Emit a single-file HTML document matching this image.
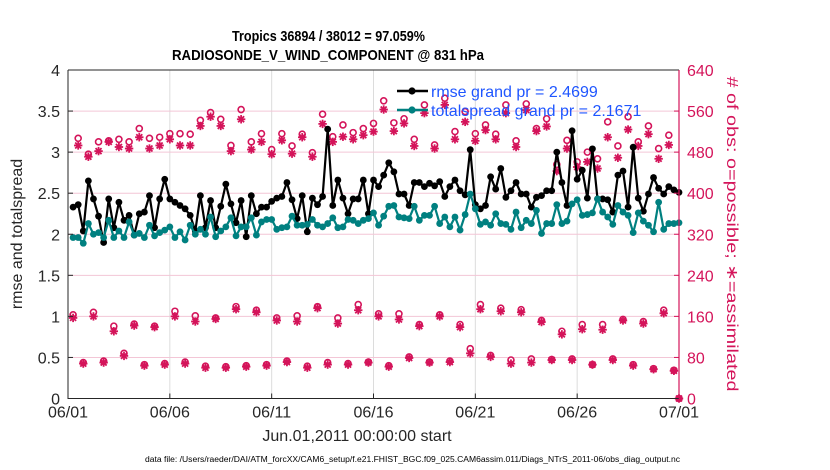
<!DOCTYPE html>
<html><head><meta charset="utf-8"><style>
html,body{margin:0;padding:0;background:#fff;}
svg{display:block;font-family:"Liberation Sans",Arial,sans-serif;}
</style></head><body>
<svg id="chart" width="830" height="470" viewBox="0 0 830 470">
<g id="grid"></g>
<g id="obs"></g>
<g id="lines"></g>
<g id="axes"></g>
<text x="232" y="41" font-size="15" font-weight="bold" fill="#000" textLength="193" lengthAdjust="spacingAndGlyphs">Tropics 36894 / 38012 = 97.059%</text>
<text x="172" y="60" font-size="15" font-weight="bold" fill="#000" textLength="312" lengthAdjust="spacingAndGlyphs">RADIOSONDE_V_WIND_COMPONENT @ 831 hPa</text>
<text transform="translate(22,234) rotate(-90)" text-anchor="middle" font-size="16" fill="#262626">rmse and totalspread</text>
<text transform="translate(727,234) rotate(90)" text-anchor="middle" font-size="16" fill="#d4145a" textLength="315" lengthAdjust="spacingAndGlyphs"># of obs: o=possible; ∗=assimilated</text>
<text x="357" y="441" text-anchor="middle" font-size="16" fill="#262626">Jun.01,2011 00:00:00 start</text>
<text x="145" y="462" font-size="8" fill="#000" textLength="535" lengthAdjust="spacingAndGlyphs">data file: /Users/raeder/DAI/ATM_forcXX/CAM6_setup/f.e21.FHIST_BGC.f09_025.CAM6assim.011/Diags_NTrS_2011-06/obs_diag_output.nc</text>
<g id="legend">
 <line x1="397" y1="91" x2="428" y2="91" stroke="#000" stroke-width="2.5"/>
 <circle cx="412" cy="91" r="3.6" fill="#000"/>
 <text x="431" y="97" font-size="16" fill="#1f56ff">rmse grand pr = 2.4699</text>
 <line x1="397" y1="110" x2="428" y2="110" stroke="#008080" stroke-width="2.5"/>
 <circle cx="412" cy="110" r="3.6" fill="#008080"/>
 <text x="431" y="116" font-size="16" fill="#1f56ff">totalspread grand pr = 2.1671</text>
</g>
</svg>
<script>
const rmse=[2.33,2.36,2.04,2.65,2.43,2.22,1.90,2.43,2.08,2.39,2.17,2.23,1.99,2.25,2.27,2.47,2.08,2.43,2.67,2.43,2.39,2.35,2.31,2.23,2.04,2.47,2.08,2.41,2.08,2.34,2.61,2.37,
2.14,2.41,1.97,2.47,2.25,2.33,2.33,2.40,2.44,2.46,2.63,2.42,2.19,2.47,2.03,2.44,2.36,2.46,3.28,2.35,2.66,2.44,2.25,2.43,2.43,2.66,2.25,2.66,2.58,2.72,2.87,
2.76,2.49,2.49,2.35,2.63,2.63,2.58,2.62,2.59,2.64,2.46,2.58,2.66,2.53,2.48,3.03,2.36,2.31,2.35,2.70,2.55,2.80,2.45,2.53,2.63,2.49,2.49,2.33,2.45,2.47,2.53,
2.53,3.00,2.63,2.35,3.26,2.67,2.78,2.44,3.04,2.43,2.43,2.42,2.27,2.72,2.77,2.33,3.06,2.44,2.28,2.49,2.69,2.56,2.49,2.58,2.54,2.51];
const spread=[1.96,1.96,1.89,2.13,2.00,2.02,1.96,2.17,1.96,2.04,1.96,2.15,1.99,2.01,1.96,2.11,1.98,2.02,2.05,2.09,1.96,2.03,1.93,2.11,2.00,2.06,2.00,2.21,1.97,2.04,2.09,2.20,
1.98,2.09,2.09,2.20,1.99,2.15,2.18,2.18,2.06,2.08,2.09,2.22,2.11,2.11,2.12,2.18,2.11,2.09,2.13,2.20,2.08,2.09,2.18,2.17,2.13,2.17,2.19,2.26,2.11,2.22,2.34,
2.35,2.21,2.20,2.19,2.34,2.17,2.23,2.23,2.34,2.13,2.21,2.09,2.21,2.05,2.24,2.49,2.31,2.12,2.15,2.11,2.25,2.13,2.12,2.06,2.27,2.08,2.17,2.13,2.29,2.01,2.13,
2.13,2.36,2.13,2.16,2.37,2.42,2.23,2.24,2.26,2.43,2.27,2.21,2.12,2.35,2.27,2.23,2.02,2.26,2.16,2.11,2.03,2.39,2.06,2.13,2.13,2.14];
const possA=[163,168,141,145,141,170,161,157,179,172,157,161,179,157,183,165,165,144,163,144,183,176,173,152,131,144,144,154,150,172];
const assimA=[157,160,131,142,139,160,150,155,174,168,152,150,176,146,172,160,154,141,160,139,174,170,168,149,125,135,134,152,146,166];
const possB=[70,73,88,66,68,71,63,62,64,66,73,63,70,68,71,64,81,71,73,97,84,75,77,76,77,66,77,66,58,55];
const assimB=[68,70,83,64,66,68,60,60,62,64,71,60,66,66,70,62,79,70,71,88,81,68,70,75,75,66,75,64,57,54];
const possU=[507,476,500,502,505,500,526,507,509,516,516,515,542,557,544,493,
563,500,516,485,516,492,515,479,554,510,533,518,526,536,580,
537,545,505,572,494,585,520,559,516,533,515,572,502,574,526,545,
456,503,461,480,467,539,492,549,500,531,487,513,0];
const assimU=[493,471,482,500,490,487,509,487,493,505,493,493,531,549,531,482,
544,485,500,476,503,477,509,471,535,500,510,505,513,520,563,
521,536,492,556,487,572,505,539,502,523,505,556,490,562,521,530,
443,487,451,461,448,509,469,524,492,515,467,494,0];
const xTicks=["06/01","06/06","06/11","06/16","06/21","06/26","07/01"];
const yLeftTicks=["0","0.5","1","1.5","2","2.5","3","3.5","4"];
const yRightTicks=["0","80","160","240","320","400","480","560","640"];

const X0=68,X1=679,Y0=398.5,Y1=70;
const xs=d=>X0+d/30*(X1-X0);
const yl=v=>Y0-v/4*(Y0-Y1);
const yr=v=>Y0-v/640*(Y0-Y1);
const NS="http://www.w3.org/2000/svg";
function mk(tag,attrs,parent){const e=document.createElementNS(NS,tag);for(const k in attrs)e.setAttribute(k,attrs[k]);parent.appendChild(e);return e;}
const grid=document.getElementById('grid'),obs=document.getElementById('obs'),lines=document.getElementById('lines'),axes=document.getElementById('axes');
const PINK="#d4145a";
xTicks.forEach((t,i)=>{const x=xs(i*5);
 const g=mk('line',{x1:x,y1:Y1,x2:x,y2:Y0,stroke:"#dcdcdc","stroke-width":1},grid);
 
 
 const tl=mk('text',{x:x,y:Y0+19,"text-anchor":"middle","font-size":16,fill:"#262626"},axes);tl.textContent=t;
 
 
 const tk=mk('line',{x1:x,y1:Y0,x2:x,y2:Y0-5,stroke:"#262626"},axes);
 
 
});
yRightTicks.forEach((t,i)=>{const y=yr(i*80);
 if(i>0&&i<8){const g=mk('line',{x1:X0,y1:y,x2:X1,y2:y,stroke:"#f3c6d6","stroke-width":1},grid);
 
 }
 const tl=mk('text',{x:X1+8,y:y+6,"font-size":16,fill:PINK},axes);tl.textContent=t;
 
 
 const tk=mk('line',{x1:X1,y1:y,x2:X1-5,y2:y,stroke:PINK},axes);
 
 
});
yLeftTicks.forEach((t,i)=>{const y=yl(i*0.5);
 const tl=mk('text',{x:X0-8,y:y+6,"text-anchor":"end","font-size":16,fill:"#262626"},axes);tl.textContent=t;
 
 
 const tk=mk('line',{x1:X0,y1:y,x2:X0+5,y2:y,stroke:"#262626"},axes);
 
 
});
const frame=mk('path',{d:`M${X0},${Y1} V${Y0} H${X1} M${X0},${Y1} H${X1}`,stroke:"#262626",fill:"none","stroke-width":1},axes);


const rax=mk('line',{x1:X1,y1:Y1,x2:X1,y2:Y0,stroke:PINK,"stroke-width":1.2},axes);


const tOf=k=>(k+1)*0.25;
function star(x,y){const g=mk('g',{stroke:PINK,"stroke-width":1.8},obs);
 
 
 const r=4.2,d=3;
 mk('line',{x1:x-r,y1:y,x2:x+r,y2:y},g);mk('line',{x1:x,y1:y-r,x2:x,y2:y+r},g);
 mk('line',{x1:x-d,y1:y-d,x2:x+d,y2:y+d},g);mk('line',{x1:x-d,y1:y+d,x2:x+d,y2:y-d},g);}
function ring(x,y){const c=mk('circle',{cx:x,cy:y,r:3,fill:"none",stroke:PINK,"stroke-width":1.6},obs);
 
 }
function plotObs(kOf,poss,asm){poss.forEach((v,i)=>{const x=xs(tOf(kOf(i)));ring(x,yr(v));star(x,yr(asm[i]));});}
plotObs(i=>4*i,possA,assimA);
plotObs(i=>4*i+2,possB,assimB);
plotObs(i=>2*i+1,possU,assimU);
function series(vals,color,name){
 const pts=vals.map((v,k)=>xs(tOf(k)).toFixed(1)+","+yl(v).toFixed(1)).join(" ");
 const pl=mk('polyline',{points:pts,fill:"none",stroke:color,"stroke-width":2.2,"stroke-linejoin":"round"},lines);
 
 
 vals.forEach((v,k)=>{const c=mk('circle',{cx:xs(tOf(k)),cy:yl(v),r:3.4,fill:color},lines);
  
  });
}
series(rmse,"#000","rmse");
series(spread,"#008080","totalspread");
</script>
</body></html>
